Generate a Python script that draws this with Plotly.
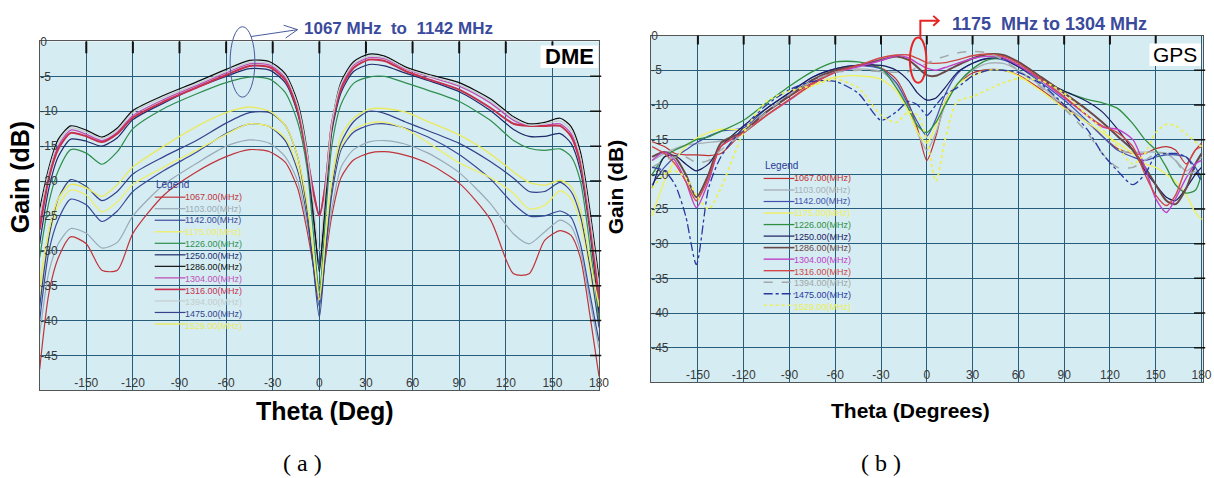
import plotly.graph_objects as go

W, H = 1214, 478


def px(x):
    return x / W


def py(y):
    return 1 - y / H


# ---------------- data ----------------
FREQS = [1067, 1103, 1142, 1175, 1226, 1250, 1286, 1304, 1316, 1394, 1475, 1529]
LABELS = [f"{f}.00(MHz)" for f in FREQS]

X_TICKS = [-150, -120, -90, -60, -30, 0, 30, 60, 90, 120, 150, 180]
Y_TICKS = [0, -5, -10, -15, -20, -25, -30, -35, -40, -45]

# (a) DME panel
THETA_DME = [-180, -174, -168, -160, -150, -140, -130, -120,
             -100, -80, -60, -45, -32, -22, -14, -8, -4,
             0,
             4, 8, 14, 22, 32, 42, 55, 70, 90,
             110, 125, 135, 145, 155, 162, 168, 174, 180]

DME_1067 = [-47, -36, -31, -28, -29, -32.8, -32.8, -27.5,
            -22, -18.8, -16.5, -15.5, -15.8, -17.3, -21, -27, -32,
            -37,
            -31, -25, -19.5, -17, -16, -15.8, -16.3, -17.5, -20.3,
            -25.5, -33.3, -33.3, -28.5, -27.1, -27.8, -31, -39, -48]
DME_1103 = [-42, -33, -29, -26.8, -27.5, -29.6, -28.8, -25,
            -20.5, -17.6, -15, -14.1, -14.6, -16.5, -20, -26, -31,
            -35,
            -30, -24, -18, -15.5, -14.4, -14.2, -14.7, -16, -18.8,
            -23.2, -27.6, -29, -27.3, -25.6, -26.5, -30, -37, -44]
DME_1142 = [-40, -30, -25.5, -22.6, -23.4, -25.8, -24.3, -21.5,
            -18.5, -16, -13.2, -11.8, -12.2, -14.2, -18.5, -25, -32,
            -38,
            -30, -22, -15.5, -13, -12, -11.8, -12.4, -13.7, -16.2,
            -19.7, -23.3, -25, -25, -24.3, -25.2, -29, -36, -43]
DME_1175 = [-37, -28, -23.5, -21.3, -22, -24.4, -23, -20.5,
            -18, -15.7, -13.3, -11.8, -12.2, -13.8, -17.8, -24, -30,
            -36,
            -28, -20.5, -15, -12.6, -11.7, -11.6, -12.5, -14.5, -17.4,
            -19.5, -21.8, -24, -23.5, -21.4, -22.5, -26, -33, -40]
DME_1226 = [-31, -23, -18.5, -15.5, -16, -17.6, -15.8, -12.5,
            -9.6, -7.6, -5.9, -5.1, -5.4, -7.3, -11.5, -18, -27,
            -36,
            -25, -15, -9, -6, -5.1, -5.0, -5.9, -7.0, -8.6,
            -11.3, -14.2, -15.3, -15.6, -15.4, -16.5, -20, -29, -40]
DME_1250 = [-29, -21, -16.5, -14, -14.3, -15, -13.8, -11.2,
            -8.8, -6.7, -5.0, -3.9, -4.1, -5.9, -10.3, -17, -25,
            -32,
            -23, -13, -7.3, -4.3, -3.3, -3.5, -4.5, -5.6, -7.2,
            -9.9, -12.6, -13.6, -13.6, -13.2, -14.6, -18.5, -27, -39]
DME_1286 = [-24, -18, -14, -12.1, -12.7, -13.7, -12.4, -9.9,
            -7.7, -5.9, -4.0, -2.7, -2.9, -4.6, -8.7, -15.5, -24,
            -33,
            -22, -12, -5.8, -2.9, -1.8, -2.1, -3.6, -4.7, -5.9,
            -8.2, -10.8, -11.8, -11.6, -11.0, -12.2, -15.8, -24, -34]
DME_1304 = [-26, -19, -15, -12.7, -13.3, -14.2, -13.0, -10.6,
            -8.3, -6.4, -4.5, -3.2, -3.4, -5.2, -9.5, -16, -21,
            -25,
            -20, -11.5, -6.4, -3.4, -2.3, -2.5, -3.9, -5.0, -6.4,
            -8.8, -11.3, -12.1, -12.0, -11.8, -13.2, -17, -25, -36]
DME_1316 = [-27, -19.5, -15.4, -13.1, -13.6, -14.4, -13.2, -10.9,
            -8.6, -6.7, -4.8, -3.5, -3.7, -5.5, -9.8, -16.5, -21.5,
            -25,
            -20.5, -12, -6.8, -3.8, -2.6, -2.8, -4.2, -5.4, -6.9,
            -9.5, -11.8, -12.1, -12.1, -12.1, -13.6, -17.5, -26, -37]
DME_1394 = [-25, -18.5, -14.5, -12.4, -13, -13.9, -12.7, -10.2,
            -8.0, -6.2, -4.3, -3.0, -3.2, -4.9, -9.1, -15.8, -23,
            -30,
            -21, -11.8, -6.1, -3.2, -2.1, -2.3, -3.8, -4.9, -6.2,
            -8.5, -11, -12, -11.8, -11.4, -12.7, -16.5, -25, -35]
DME_1475 = [-38, -28, -22.5, -19.8, -20.8, -22.8, -21.5, -19,
            -16.5, -14.3, -11.7, -10.2, -10.2, -12, -16.5, -24, -32,
            -39.5,
            -30, -21, -14.5, -11.5, -10, -10.3, -11.5, -12.8, -14.6,
            -17.2, -19.6, -21.5, -21.5, -20.2, -21.5, -25, -32, -41]
DME_1529 = [-35, -27, -22.5, -20.5, -21, -22.2, -20.5, -18,
            -15, -12.3, -10.2, -9.4, -10, -12, -16.5, -23, -30,
            -37,
            -28, -20, -13.5, -11, -9.7, -9.6, -10.1, -11.5, -13.4,
            -16.1, -18.7, -20.2, -20.6, -19.9, -20.8, -24, -31, -38]

# (b) GPS panel
THETA_GPS = [-180, -172, -165, -158, -151, -143, -135, -120,
             -105, -90, -75, -60, -45, -30, -20, -12, -6,
             0,
             6, 12, 20, 30, 40, 50, 60, 75, 90,
             105, 115, 125, 135, 143, 150, 157, 163, 170, 176, 180]

GPS_1067 = [-15.3, -16, -17, -17.2, -17.2, -17.3, -17, -13.8,
            -11, -8.8, -6.8, -5.2, -4.3, -4.7, -6.3, -9.7, -13.5,
            -18,
            -14.5, -9.5, -7, -5.4, -4.9, -5.0, -5.7, -7.8, -10.2,
            -12.5, -14.5, -16.3, -17, -17, -16.3, -16, -16.5, -18.5, -16.5, -15.5]
GPS_1103 = [-18, -17, -16.3, -15.8, -15.6, -15.4, -15.2, -14,
            -11, -8.5, -6.5, -5.2, -4.8, -5.2, -7, -10.5, -14,
            -16.5,
            -14, -10, -7, -5, -4, -4, -5, -7.3, -10,
            -12.5, -14.5, -16.5, -16.8, -16.8, -16.8, -17, -18, -19.5, -18.5, -17.5]
GPS_1142 = [-21.5, -19, -17.5, -16.5, -15.5, -14.5, -13.8, -13.3,
            -10.5, -8.3, -6, -4.8, -4.3, -4.8, -6.8, -10, -12.5,
            -14.5,
            -12, -8.5, -5.5, -4, -3.3, -3.5, -4.5, -6.8, -9.3,
            -12.3, -14.5, -16.5, -17.5, -18, -17.5, -17.2, -17.2, -17.5, -19, -20.5]
GPS_1175 = [-26, -21, -18, -16, -14.8, -14, -13.5, -13.5,
            -11.5, -9.3, -7.2, -6, -5.8, -6.3, -8, -11, -14,
            -15.5,
            -13, -9.5, -7, -5.8, -5.0, -5, -5.8, -8, -10.5,
            -12.5, -14, -15.5, -17, -18.5, -19, -20, -21, -23, -25.5, -26.5]
GPS_1226 = [-20, -17.5, -16.5, -15.8, -15, -14.6, -13.8, -12.2,
            -9.7, -7.3, -5.2, -3.8, -3.8, -4.7, -7.5, -10.5, -13,
            -14,
            -12.5, -10, -7, -4.8, -3.5, -3.3, -4.3, -6.5, -8,
            -9.2, -9.7, -10.5, -12.7, -15, -16.5, -19, -21.5, -22.7, -22.3, -20]
GPS_1250 = [-22, -17.5, -17.3, -18.5, -19.5, -18.5, -16, -13,
            -10.5, -8.2, -6, -4.8, -4.3, -4.3, -5, -6.5, -8.3,
            -9.3,
            -9, -7.5, -5.3, -4, -3.3, -3.3, -4.5, -6.3, -8,
            -9.5, -11, -13.5, -16.5, -19.5, -21.5, -23.3, -23.8, -22, -20, -19]
GPS_1286 = [-17.5, -16.8, -17.5, -20, -23.3, -20, -15.5, -13.8,
            -11, -8.7, -6.4, -5, -4.3, -3.5, -3, -3.5, -4.6,
            -5.7,
            -5.8, -5.2, -4.3, -3.3, -2.7, -2.8, -3.8, -6, -8.3,
            -10.7, -12.5, -14.5, -16.5, -19, -21.5, -23.8, -24.3, -22, -18.5, -17]
GPS_1304 = [-18, -16.8, -18, -21, -24.8, -21, -16, -14,
            -11.5, -9.3, -7, -5.3, -4.5, -3.6, -2.9, -3.2, -4,
            -4.7,
            -5, -4.6, -4, -3.3, -3, -3.2, -4.3, -6.5, -9,
            -11.5, -13.2, -13.5, -15, -19, -23.5, -25.5, -23.5, -20.5, -18.5, -18]
GPS_1316 = [-16, -17, -18.5, -21, -23.8, -20.5, -16, -14,
            -11.5, -9.2, -7, -5.3, -4.3, -3.2, -2.8, -2.8, -3.3,
            -3.9,
            -4, -3.9, -3.5, -2.9, -2.7, -3, -4, -6.3, -8.8,
            -11.5, -13, -14, -16, -20, -23, -24.5, -23, -19, -16.5, -16]
GPS_1394 = [-19, -18, -17.5, -17.5, -18.3, -18, -16.5, -14,
            -11, -8.5, -6.5, -5.3, -5, -5.2, -5.3, -5.2, -4.6,
            -4,
            -3.4, -3, -2.5, -2.3, -2.5, -3.5, -5, -7.5, -10.5,
            -14, -17, -19, -19, -18, -17, -17, -18, -20, -19.5, -19]
GPS_1475 = [-19, -19.5, -21.5, -26, -33, -22, -17.5, -13.2,
            -10, -7.8, -6.6, -6.6, -8.3, -12.2, -11, -9.5, -10,
            -11.5,
            -10, -8.5, -7.5, -5.8, -5, -5, -5.3, -7, -10,
            -13.5, -17, -19.5, -21.5, -20, -17.3, -17, -17, -17.5, -19.5, -21]
GPS_1529 = [-22, -20, -19.5, -20.5, -23, -25, -22, -14,
            -9.5, -8, -7.2, -6.3, -7.5, -11.5, -12.5, -11, -11.5,
            -15,
            -21, -15, -9.5, -8.8, -7.8, -6.8, -6.2, -6.5, -8.3,
            -11.5, -13.5, -16, -18.5, -17, -14, -12.8, -13, -14.2, -15.3, -16]

DME_SERIES = [DME_1067, DME_1103, DME_1142, DME_1175, DME_1226, DME_1250,
              DME_1286, DME_1304, DME_1316, DME_1394, DME_1475, DME_1529]
GPS_SERIES = [GPS_1067, GPS_1103, GPS_1142, GPS_1175, GPS_1226, GPS_1250,
              GPS_1286, GPS_1304, GPS_1316, GPS_1394, GPS_1475, GPS_1529]

for s in DME_SERIES:
    assert len(s) == len(THETA_DME), len(s)
for s in GPS_SERIES:
    assert len(s) == len(THETA_GPS), len(s)

# ---------------- styles ----------------
DME_COLORS = ["#C0343C", "#9AAAB8", "#3A4A9A", "#EEEE70", "#2F8F4F", "#1C2C6C",
              "#101010", "#C050B8", "#C83050", "#C4CCCC", "#34448C", "#EAEA60"]
DME_WIDTHS = [1.2, 1.2, 1.2, 1.4, 1.2, 1.2, 1.2, 1.3, 2.0, 1.2, 1.2, 1.4]

GPS_COLORS = ["#C03030", "#A8B0B8", "#4050B0", "#F0F060", "#309040", "#1A1A60",
              "#6A4848", "#C040C8", "#D04848", "#A0A8A8", "#2838A0", "#EEEE55"]
GPS_WIDTHS = [1.2, 1.4, 1.2, 1.4, 1.3, 1.2, 2.0, 1.4, 1.4, 1.5, 1.3, 1.8]
GPS_DASH = ["solid"] * 9 + ["dash", "dashdot", "dot"]

BG = "#D5ECF2"
GRID = "#275C7A"
NARROW = "Liberation Sans Narrow, Arial Narrow, Liberation Sans, sans-serif"
SANS = "Liberation Sans, Arial, sans-serif"

fig = go.Figure()

for i, ys in enumerate(DME_SERIES):
    fig.add_trace(go.Scatter(
        x=THETA_DME, y=ys, mode="lines", name=LABELS[i],
        line=dict(color=DME_COLORS[i], width=DME_WIDTHS[i], shape="spline", smoothing=0.7),
        xaxis="x", yaxis="y", showlegend=False, hoverinfo="skip"))

for i, ys in enumerate(GPS_SERIES):
    fig.add_trace(go.Scatter(
        x=THETA_GPS, y=ys, mode="lines", name=LABELS[i],
        line=dict(color=GPS_COLORS[i], width=GPS_WIDTHS[i], shape="spline", smoothing=0.7,
                  dash=GPS_DASH[i]),
        xaxis="x2", yaxis="y2", showlegend=False, hoverinfo="skip"))


def xaxis(domain, rng, anchor):
    return dict(domain=domain, range=rng, anchor=anchor,
                tickvals=X_TICKS, ticktext=[str(v) for v in X_TICKS],
                ticklabelposition="inside", ticks="", ticklabeloverflow="allow",
                showgrid=True, gridcolor=GRID, gridwidth=1.4, zeroline=False,
                showline=True, linecolor="#555555", linewidth=1, mirror=True,
                tickfont=dict(family=NARROW, size=12, color="#3A3A3A"))


def yaxis(domain, anchor):
    return dict(domain=domain, range=[-50, 0], anchor=anchor,
                tickvals=Y_TICKS, ticktext=[str(v) for v in Y_TICKS],
                ticklabelposition="inside", ticks="", ticklabeloverflow="allow",
                showgrid=True, gridcolor=GRID, gridwidth=1.4, zeroline=False,
                showline=True, linecolor="#555555", linewidth=1, mirror=True,
                tickfont=dict(family=NARROW, size=12, color="#3A3A3A"))


# panel pixel boxes (left, top, right, bottom)
A_BOX = (40, 35, 604, 389)
B_BOX = (656, 29, 1213, 381)

shapes = []
annotations = []

# top tick marks and right tick marks
for box, xr, yr, tl in [(A_BOX, "x", "y", 12), (B_BOX, "x2", "y2", 9)]:
    h = box[3] - box[1]
    w = box[2] - box[0]
    for v in X_TICKS[:-1]:
        shapes.append(dict(type="line", xref=xr, yref=f"{yr} domain", x0=v, x1=v,
                           y0=1, y1=1 - tl / h, line=dict(color="#111111", width=2)))
    for v in Y_TICKS[1:]:
        shapes.append(dict(type="line", xref=f"{xr} domain", yref=yr, x0=1 - 9 / w, x1=1.004,
                           y0=v, y1=v, line=dict(color="#111111", width=1.5)))

# label boxes DME / GPS
shapes.append(dict(type="rect", xref="paper", yref="paper", x0=px(545), x1=px(603),
                   y0=py(62), y1=py(39), fillcolor="white", line=dict(width=0)))
annotations.append(dict(x=px(574), y=py(50.5), text="<b>DME</b>",
                        font=dict(family=SANS, size=22, color="black")))
shapes.append(dict(type="rect", xref="paper", yref="paper", x0=px(1159), x1=px(1211),
                   y0=py(60), y1=py(37), fillcolor="white", line=dict(width=0)))
annotations.append(dict(x=px(1185), y=py(48.5), text="GPS",
                        font=dict(family=SANS, size=21, color="black")))

# legends drawn as in the original software (one text block per panel)
LEG_FONT = 9
for (lx, ly0, step, colors, widths, dashes) in [
        (156, 193, 11.7, DME_COLORS, DME_WIDTHS, ["solid"] * 12),
        (770, 174, 11.7, GPS_COLORS, GPS_WIDTHS, GPS_DASH)]:
    annotations.append(dict(x=px(lx - 1), y=py(ly0 - 13), text="Legend", xanchor="left",
                            font=dict(family=SANS, size=10, color="#2A3A9A")))
    for i in range(len(LABELS)):
        yy = ly0 + i * step
        shapes.append(dict(type="line", xref="paper", yref="paper", x0=px(lx), x1=px(lx + 31),
                           y0=py(yy), y1=py(yy),
                           line=dict(color=colors[i], width=min(widths[i], 1.6), dash=dashes[i])))
    block = "<br>".join(f"<span style='color:{c}'>{lab}</span>" for c, lab in zip(colors, LABELS))
    annotations.append(dict(x=px(lx + 30), y=py(ly0 - step / 2 - 0.5), text=block,
                            xanchor="left", yanchor="top", align="left", borderpad=0,
                            font=dict(family=SANS, size=LEG_FONT, color="#333333")))

# axis titles and captions
annotations += [
    dict(x=px(21), y=py(172), text="<b>Gain (dB)</b>", textangle=-90,
         font=dict(family=SANS, size=25, color="black")),
    dict(x=px(328), y=py(410), text="<b>Theta (Deg)</b>",
         font=dict(family=SANS, size=25, color="black")),
    dict(x=px(620), y=py(182), text="<b>Gain (dB)</b>", textangle=-90,
         font=dict(family=SANS, size=21, color="black")),
    dict(x=px(918), y=py(410), text="<b>Theta (Degrees)</b>",
         font=dict(family=SANS, size=21, color="black")),
    dict(x=px(305), y=py(463), text="( a )",
         font=dict(family="Liberation Serif, Times New Roman, serif", size=24, color="black")),
    dict(x=px(888), y=py(463), text="( b )",
         font=dict(family="Liberation Serif, Times New Roman, serif", size=24, color="black")),
    dict(x=px(402), y=py(21.5), text="<b>1067 MHz\u00a0 to\u00a0 1142 MHz</b>",
         font=dict(family=SANS, size=17, color="#3A4A9C")),
    dict(x=px(1058), y=py(17), text="<b>1175\u00a0 MHz to 1304 MHz</b>",
         font=dict(family=SANS, size=18, color="#3A4A9C")),
]
for a in annotations:
    a.setdefault("xref", "paper")
    a.setdefault("yref", "paper")
    a.setdefault("showarrow", False)
    a.setdefault("xanchor", "center")
    a.setdefault("yanchor", "middle")


def path(points):
    return "M " + " L ".join(f"{px(x):.5f},{py(y):.5f}" for x, y in points)


# left ellipse + arrow
shapes.append(dict(type="circle", xref="paper", yref="paper", x0=px(232), x1=px(257),
                   y0=py(91.5), y1=py(20), line=dict(color="#4A5A9E", width=1)))
shapes.append(dict(type="path", xref="paper", yref="paper",
                   path=path([(253, 30), (300, 23)]), line=dict(color="#4A5A9E", width=1)))
shapes.append(dict(type="path", xref="paper", yref="paper",
                   path=path([(286, 18.5), (300, 23), (288, 31.5)]), line=dict(color="#4A5A9E", width=1)))

# right ellipse + arrow
shapes.append(dict(type="circle", xref="paper", yref="paper", x0=px(917.5), x1=px(934),
                   y0=py(77), y1=py(31), line=dict(color="#E52525", width=2)))
shapes.append(dict(type="path", xref="paper", yref="paper",
                   path=path([(928, 31.5), (928, 14), (946.5, 14)]), line=dict(color="#E52525", width=2)))
shapes.append(dict(type="path", xref="paper", yref="paper",
                   path=path([(941, 9), (946.5, 14), (941, 19)]), line=dict(color="#E52525", width=2)))

fig.update_layout(
    width=W, height=H, margin=dict(l=0, r=0, t=0, b=0),
    paper_bgcolor="white", plot_bgcolor=BG, showlegend=False,
    xaxis=xaxis([px(A_BOX[0]), px(A_BOX[2])], [-180, 180], "y"),
    yaxis=yaxis([py(A_BOX[3]), py(A_BOX[1])], "x"),
    xaxis2=xaxis([px(B_BOX[0]), px(B_BOX[2])], [-181, 181], "y2"),
    yaxis2=yaxis([py(B_BOX[3]), py(B_BOX[1])], "x2"),
    shapes=shapes, annotations=annotations,
)

fig.write_html("out.html", config={"displayModeBar": False},
               post_script="document.body.style.margin='0';document.body.style.overflow='hidden';")
